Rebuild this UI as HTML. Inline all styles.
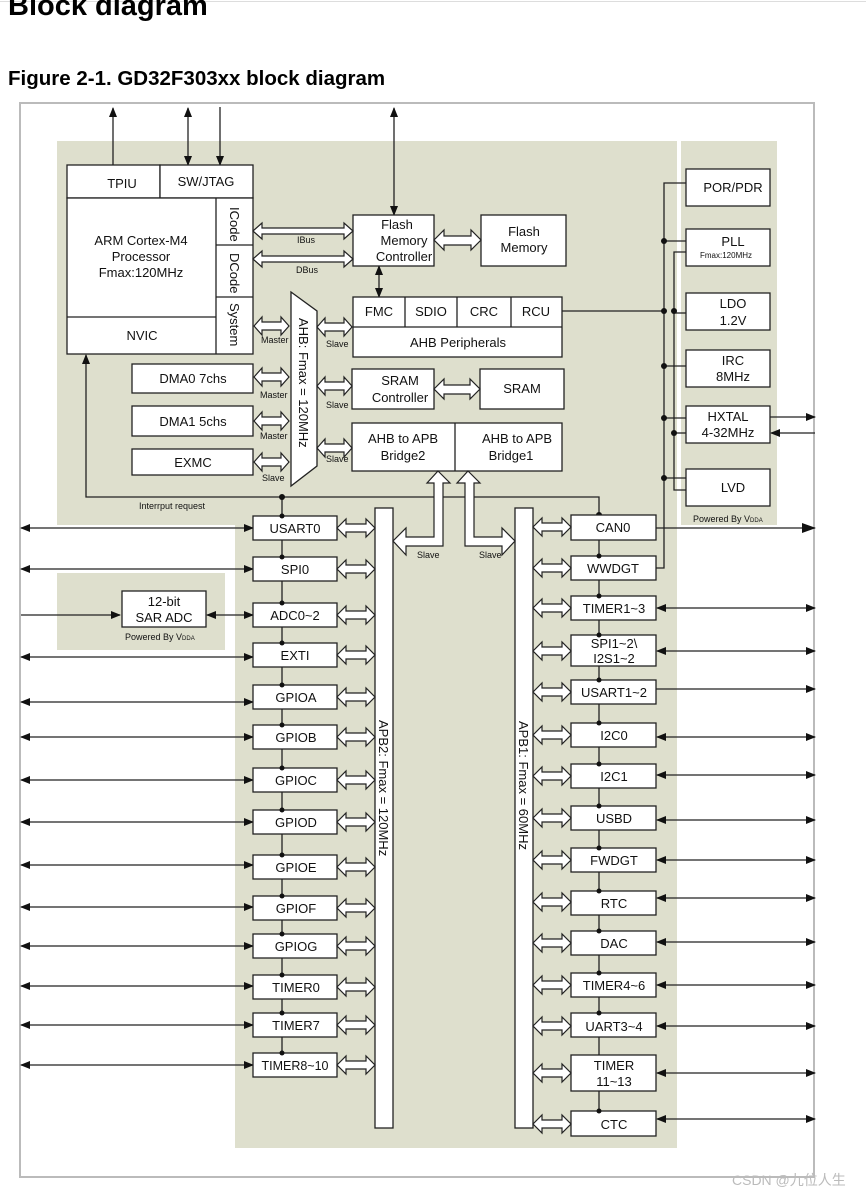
<!DOCTYPE html>
<html><head><meta charset="utf-8"><style>
html,body{margin:0;padding:0;background:#fff;}
svg{display:block;font-family:"Liberation Sans","Noto Sans CJK SC",sans-serif;}
</style></head><body>
<svg width="866" height="1194" viewBox="0 0 866 1194" xmlns="http://www.w3.org/2000/svg">
<defs>
<marker id="a" markerUnits="userSpaceOnUse" markerWidth="10" markerHeight="10" refX="9" refY="5" orient="auto-start-reverse"><path d="M0,1 L10,5 L0,9 z" fill="#111"/></marker>
<marker id="b" markerUnits="userSpaceOnUse" markerWidth="14" markerHeight="12" refX="13" refY="6" orient="auto-start-reverse"><path d="M0,1 L14,6 L0,11 z" fill="#111"/></marker>
<g id="h"><polygon points="0,0 9,-9 9,-4 29,-4 29,-9 38,0 29,9 29,4 9,4 9,9" fill="#fff" stroke="#222" stroke-width="1.2"/></g>
<g id="h2"><polygon points="0,0 8,-9 8,-4 27,-4 27,-9 35,0 27,9 27,4 8,4 8,9" fill="#fff" stroke="#222" stroke-width="1.2"/></g>
</defs>
<line x1="0" y1="1.5" x2="866" y2="1.5" stroke="#ddd"/>
<text x="8" y="15" font-size="29" font-weight="bold">Block diagram</text>
<text x="8" y="85" font-size="20.5" font-weight="bold">Figure 2-1. GD32F303xx block diagram</text>
<rect x="20" y="103" width="794" height="1074" fill="#fff" stroke="#bbb" stroke-width="2"/>
<g fill="#dedfcd">
<rect x="57" y="141" width="620" height="384"/>
<rect x="681" y="141" width="96" height="384"/>
<rect x="235" y="525" width="442" height="623"/>
<rect x="57" y="573" width="168" height="77"/>
</g>
<g stroke="#222" stroke-width="1.3" fill="none">
<line x1="113" y1="165" x2="113" y2="108" marker-end="url(#a)"/>
<line x1="188" y1="165" x2="188" y2="108" marker-end="url(#a)" marker-start="url(#a)"/>
<line x1="220" y1="107" x2="220" y2="165" marker-end="url(#a)"/>
<line x1="394" y1="215" x2="394" y2="108" marker-end="url(#a)" marker-start="url(#a)"/>
<line x1="379" y1="266" x2="379" y2="297" marker-end="url(#a)" marker-start="url(#a)"/>
<polyline points="86,356 86,497 599,497 599,515"/>
<line x1="86" y1="355" x2="86" y2="356" marker-start="url(#a)"/>
<line x1="282" y1="497" x2="282" y2="1053"/>
<line x1="599" y1="515" x2="599" y2="1111"/>
<polyline points="562,311 664,311"/>
<polyline points="686,183 664,183 664,568 656,568"/>
<polyline points="686,252 674,252 674,490 686,490"/>
<line x1="664" y1="241" x2="686" y2="241"/><line x1="674" y1="313" x2="686" y2="313"/>
<line x1="664" y1="366" x2="686" y2="366"/><line x1="664" y1="418" x2="686" y2="418"/>
<line x1="674" y1="433" x2="686" y2="433"/><line x1="664" y1="478" x2="686" y2="478"/>
<line x1="770" y1="417" x2="815" y2="417" marker-end="url(#a)"/>
<line x1="815" y1="433" x2="771" y2="433" marker-end="url(#a)"/>
<line x1="656" y1="528" x2="815" y2="528" marker-end="url(#b)"/>
</g>
<g fill="#111">
<circle cx="282" cy="497" r="3"/><circle cx="599" cy="515" r="3"/>
<circle cx="664" cy="241" r="3"/><circle cx="664" cy="311" r="3"/><circle cx="674" cy="311" r="3"/>
<circle cx="664" cy="366" r="3"/><circle cx="664" cy="418" r="3"/><circle cx="674" cy="433" r="3"/><circle cx="664" cy="478" r="3"/>
</g>
<g fill="#fff" stroke="#222" stroke-width="1.3">
<rect x="67" y="165" width="93" height="33"/><rect x="160" y="165" width="93" height="33"/>
<rect x="67" y="198" width="186" height="156"/>
<line x1="67" y1="317" x2="216" y2="317"/><line x1="216" y1="198" x2="216" y2="354"/>
<line x1="216" y1="245" x2="253" y2="245"/><line x1="216" y1="297" x2="253" y2="297"/>
<rect x="353" y="215" width="81" height="51"/><rect x="481" y="215" width="85" height="51"/>
<rect x="353" y="297" width="209" height="60"/><line x1="353" y1="327" x2="562" y2="327"/>
<line x1="405" y1="297" x2="405" y2="327"/><line x1="457" y1="297" x2="457" y2="327"/><line x1="511" y1="297" x2="511" y2="327"/>
<rect x="352" y="369" width="82" height="40"/><rect x="480" y="369" width="84" height="40"/>
<rect x="352" y="423" width="210" height="48"/><line x1="455" y1="423" x2="455" y2="471"/>
<rect x="132" y="364" width="121" height="29"/><rect x="132" y="406" width="121" height="30"/><rect x="132" y="449" width="121" height="26"/>
<polygon points="291,292 317,311 317,466 291,486"/>
<rect x="686" y="169" width="84" height="37"/><rect x="686" y="229" width="84" height="37"/>
<rect x="686" y="293" width="84" height="37"/><rect x="686" y="350" width="84" height="37"/>
<rect x="686" y="406" width="84" height="37"/><rect x="686" y="469" width="84" height="37"/>
<rect x="375" y="508" width="18" height="620"/><rect x="515" y="508" width="18" height="620"/>
<rect x="122" y="591" width="84" height="36"/>
</g>
<g fill="#fff" stroke="#222" stroke-width="1.2">
<polygon points="253,231 262,223 262,228 344,228 344,223 353,231 344,239 344,234 262,234 262,239"/>
<polygon points="253,259 262,251 262,256 344,256 344,251 353,259 344,267 344,262 262,262 262,267"/>
<polygon points="434,240 444,230 444,236 471,236 471,230 481,240 471,250 471,245 444,245 444,250"/>
<polygon points="434,389 444,379 444,385 470,385 470,379 480,389 470,399 470,394 444,394 444,399"/>
<polygon points="438,471 450,483 443,483 443,546 406,546 406,555 393,541 406,528 406,537 434,537 434,483 427,483"/>
<polygon points="468,471 480,483 474,483 474,537 502,537 502,528 515,541 502,555 502,546 465,546 465,483 457,483"/>
</g>
<use href="#h2" x="254" y="326"/><use href="#h2" x="254" y="377"/><use href="#h2" x="254" y="421"/><use href="#h2" x="254" y="462"/>
<use href="#h2" x="317" y="327"/><use href="#h2" x="317" y="386"/><use href="#h2" x="317" y="448"/>
<g font-size="13" text-anchor="middle" fill="#111">
<text x="122" y="188">TPIU</text><text x="206" y="186">SW/JTAG</text>
<text x="141" y="245">ARM Cortex-M4</text><text x="141" y="261">Processor</text><text x="141" y="277">Fmax:120MHz</text>
<text x="142" y="340">NVIC</text>
<text x="397" y="229">Flash</text><text x="404" y="245">Memory</text><text x="404" y="261">Controller</text>
<text x="524" y="236">Flash</text><text x="524" y="252">Memory</text>
<text x="379" y="316">FMC</text><text x="431" y="316">SDIO</text><text x="484" y="316">CRC</text><text x="536" y="316">RCU</text>
<text x="458" y="347">AHB Peripherals</text>
<text x="400" y="385">SRAM</text><text x="400" y="402">Controller</text><text x="522" y="393">SRAM</text>
<text x="403" y="443">AHB to APB</text><text x="403" y="460">Bridge2</text>
<text x="517" y="443">AHB to APB</text><text x="511" y="460">Bridge1</text>
<text x="193" y="383">DMA0 7chs</text><text x="193" y="426">DMA1 5chs</text><text x="193" y="467">EXMC</text>
<text x="733" y="192">POR/PDR</text><text x="733" y="246">PLL</text>
<text x="733" y="308">LDO</text><text x="733" y="325">1.2V</text>
<text x="733" y="365">IRC</text><text x="733" y="381">8MHz</text>
<text x="728" y="421">HXTAL</text><text x="728" y="437">4-32MHz</text>
<text x="733" y="492">LVD</text>
<text x="164" y="606">12-bit</text><text x="164" y="622">SAR ADC</text>
</g>
<g font-size="13" fill="#111">
<text transform="translate(230,207) rotate(90)">ICode</text>
<text transform="translate(230,253) rotate(90)">DCode</text>
<text transform="translate(230,303) rotate(90)">System</text>
<text transform="translate(299,318) rotate(90)">AHB: Fmax = 120MHz</text>
<text transform="translate(379,720) rotate(90)">APB2: Fmax = 120MHz</text>
<text transform="translate(519,721) rotate(90)">APB1: Fmax = 60MHz</text>
</g>
<g font-size="9" fill="#111">
<text x="297" y="243">IBus</text><text x="296" y="273">DBus</text>
<text x="261" y="343">Master</text><text x="260" y="398">Master</text><text x="260" y="439">Master</text><text x="262" y="481">Slave</text>
<text x="326" y="347">Slave</text><text x="326" y="408">Slave</text><text x="326" y="462">Slave</text>
<text x="139" y="509">Interrput request</text>
<text x="417" y="558">Slave</text><text x="479" y="558">Slave</text>
<text x="125" y="640">Powered By V<tspan font-size="6">DDA</tspan></text>
<text x="693" y="522">Powered By V<tspan font-size="6">DDA</tspan></text>
<text x="700" y="258" font-size="8">Fmax:120MHz</text>
</g>
<g stroke="#222" stroke-width="1.3" fill="none">
<line x1="21" y1="528" x2="253" y2="528" marker-start="url(#a)" marker-end="url(#a)"/>
<line x1="21" y1="569" x2="253" y2="569" marker-start="url(#a)" marker-end="url(#a)"/>
<line x1="21" y1="615" x2="120" y2="615" marker-end="url(#a)"/>
<line x1="207" y1="615" x2="253" y2="615" marker-start="url(#a)" marker-end="url(#a)"/>
<line x1="21" y1="657" x2="253" y2="657" marker-start="url(#a)" marker-end="url(#a)"/>
<line x1="21" y1="702" x2="253" y2="702" marker-start="url(#a)" marker-end="url(#a)"/>
<line x1="21" y1="737" x2="253" y2="737" marker-start="url(#a)" marker-end="url(#a)"/>
<line x1="21" y1="780" x2="253" y2="780" marker-start="url(#a)" marker-end="url(#a)"/>
<line x1="21" y1="822" x2="253" y2="822" marker-start="url(#a)" marker-end="url(#a)"/>
<line x1="21" y1="865" x2="253" y2="865" marker-start="url(#a)" marker-end="url(#a)"/>
<line x1="21" y1="907" x2="253" y2="907" marker-start="url(#a)" marker-end="url(#a)"/>
<line x1="21" y1="946" x2="253" y2="946" marker-start="url(#a)" marker-end="url(#a)"/>
<line x1="21" y1="986" x2="253" y2="986" marker-start="url(#a)" marker-end="url(#a)"/>
<line x1="21" y1="1025" x2="253" y2="1025" marker-start="url(#a)" marker-end="url(#a)"/>
<line x1="21" y1="1065" x2="253" y2="1065" marker-start="url(#a)" marker-end="url(#a)"/>
</g>
<g fill="#fff" stroke="#222" stroke-width="1.3">
<rect x="253" y="516" width="84" height="24"/><rect x="253" y="557" width="84" height="24"/>
<rect x="253" y="603" width="84" height="24"/><rect x="253" y="643" width="84" height="24"/>
<rect x="253" y="685" width="84" height="24"/><rect x="253" y="725" width="84" height="24"/>
<rect x="253" y="768" width="84" height="24"/><rect x="253" y="810" width="84" height="24"/>
<rect x="253" y="855" width="84" height="24"/><rect x="253" y="896" width="84" height="24"/>
<rect x="253" y="934" width="84" height="24"/><rect x="253" y="975" width="84" height="24"/>
<rect x="253" y="1013" width="84" height="24"/><rect x="253" y="1053" width="84" height="24"/>
</g>
<g fill="#111">
<circle cx="282" cy="516" r="2.5"/><circle cx="282" cy="557" r="2.5"/><circle cx="282" cy="603" r="2.5"/><circle cx="282" cy="643" r="2.5"/>
<circle cx="282" cy="685" r="2.5"/><circle cx="282" cy="725" r="2.5"/><circle cx="282" cy="768" r="2.5"/><circle cx="282" cy="810" r="2.5"/>
<circle cx="282" cy="855" r="2.5"/><circle cx="282" cy="896" r="2.5"/><circle cx="282" cy="934" r="2.5"/><circle cx="282" cy="975" r="2.5"/>
<circle cx="282" cy="1013" r="2.5"/><circle cx="282" cy="1053" r="2.5"/>
</g>
<use href="#h" x="337" y="528"/><use href="#h" x="337" y="569"/><use href="#h" x="337" y="615"/><use href="#h" x="337" y="655"/>
<use href="#h" x="337" y="697"/><use href="#h" x="337" y="737"/><use href="#h" x="337" y="780"/><use href="#h" x="337" y="822"/>
<use href="#h" x="337" y="867"/><use href="#h" x="337" y="908"/><use href="#h" x="337" y="946"/><use href="#h" x="337" y="987"/>
<use href="#h" x="337" y="1025"/><use href="#h" x="337" y="1065"/>
<g font-size="13" text-anchor="middle" fill="#111">
<text x="295" y="533">USART0</text><text x="295" y="574">SPI0</text><text x="295" y="620">ADC0~2</text><text x="295" y="660">EXTI</text>
<text x="296" y="702">GPIOA</text><text x="296" y="742">GPIOB</text><text x="296" y="785">GPIOC</text><text x="296" y="827">GPIOD</text>
<text x="296" y="872">GPIOE</text><text x="296" y="913">GPIOF</text><text x="296" y="951">GPIOG</text><text x="296" y="992">TIMER0</text>
<text x="296" y="1030">TIMER7</text><text x="295" y="1070" font-size="12.5">TIMER8~10</text>
</g>
<g stroke="#222" stroke-width="1.3" fill="none">
<line x1="657" y1="608" x2="815" y2="608" marker-start="url(#a)" marker-end="url(#a)"/>
<line x1="657" y1="651" x2="815" y2="651" marker-start="url(#a)" marker-end="url(#a)"/>
<line x1="656" y1="689" x2="815" y2="689" marker-end="url(#a)"/>
<line x1="657" y1="737" x2="815" y2="737" marker-start="url(#a)" marker-end="url(#a)"/>
<line x1="657" y1="775" x2="815" y2="775" marker-start="url(#a)" marker-end="url(#a)"/>
<line x1="657" y1="820" x2="815" y2="820" marker-start="url(#a)" marker-end="url(#a)"/>
<line x1="657" y1="860" x2="815" y2="860" marker-start="url(#a)" marker-end="url(#a)"/>
<line x1="657" y1="898" x2="815" y2="898" marker-start="url(#a)" marker-end="url(#a)"/>
<line x1="657" y1="942" x2="815" y2="942" marker-start="url(#a)" marker-end="url(#a)"/>
<line x1="657" y1="985" x2="815" y2="985" marker-start="url(#a)" marker-end="url(#a)"/>
<line x1="657" y1="1026" x2="815" y2="1026" marker-start="url(#a)" marker-end="url(#a)"/>
<line x1="657" y1="1073" x2="815" y2="1073" marker-start="url(#a)" marker-end="url(#a)"/>
<line x1="657" y1="1119" x2="815" y2="1119" marker-start="url(#a)" marker-end="url(#a)"/>
</g>
<g fill="#fff" stroke="#222" stroke-width="1.3">
<rect x="571" y="515" width="85" height="25"/><rect x="571" y="556" width="85" height="24"/>
<rect x="571" y="596" width="85" height="24"/><rect x="571" y="635" width="85" height="31"/>
<rect x="571" y="680" width="85" height="24"/><rect x="571" y="723" width="85" height="24"/>
<rect x="571" y="764" width="85" height="24"/><rect x="571" y="806" width="85" height="24"/>
<rect x="571" y="848" width="85" height="24"/><rect x="571" y="891" width="85" height="24"/>
<rect x="571" y="931" width="85" height="24"/><rect x="571" y="973" width="85" height="24"/>
<rect x="571" y="1013" width="85" height="24"/><rect x="571" y="1055" width="85" height="36"/>
<rect x="571" y="1111" width="85" height="25"/>
</g>
<g fill="#111">
<circle cx="599" cy="556" r="2.5"/><circle cx="599" cy="596" r="2.5"/><circle cx="599" cy="635" r="2.5"/><circle cx="599" cy="680" r="2.5"/>
<circle cx="599" cy="723" r="2.5"/><circle cx="599" cy="764" r="2.5"/><circle cx="599" cy="806" r="2.5"/><circle cx="599" cy="848" r="2.5"/>
<circle cx="599" cy="891" r="2.5"/><circle cx="599" cy="931" r="2.5"/><circle cx="599" cy="973" r="2.5"/><circle cx="599" cy="1013" r="2.5"/>
<circle cx="599" cy="1111" r="2.5"/>
</g>
<use href="#h" x="533" y="527"/><use href="#h" x="533" y="568"/><use href="#h" x="533" y="608"/><use href="#h" x="533" y="651"/>
<use href="#h" x="533" y="692"/><use href="#h" x="533" y="735"/><use href="#h" x="533" y="776"/><use href="#h" x="533" y="818"/>
<use href="#h" x="533" y="860"/><use href="#h" x="533" y="902"/><use href="#h" x="533" y="943"/><use href="#h" x="533" y="985"/>
<use href="#h" x="533" y="1026"/><use href="#h" x="533" y="1073"/><use href="#h" x="533" y="1124"/>
<g font-size="13" text-anchor="middle" fill="#111">
<text x="613" y="532">CAN0</text><text x="613" y="573">WWDGT</text><text x="614" y="613">TIMER1~3</text>
<text x="614" y="648">SPI1~2\</text><text x="614" y="663">I2S1~2</text>
<text x="614" y="697">USART1~2</text><text x="614" y="740">I2C0</text><text x="614" y="781">I2C1</text><text x="614" y="823">USBD</text>
<text x="614" y="865">FWDGT</text><text x="614" y="908">RTC</text><text x="614" y="948">DAC</text><text x="614" y="990">TIMER4~6</text>
<text x="614" y="1031">UART3~4</text><text x="614" y="1070">TIMER</text><text x="614" y="1086">11~13</text><text x="614" y="1129">CTC</text>
</g>
<text x="732" y="1185" font-size="14" fill="#bbb">CSDN @九位人生</text>
</svg>
</body></html>
